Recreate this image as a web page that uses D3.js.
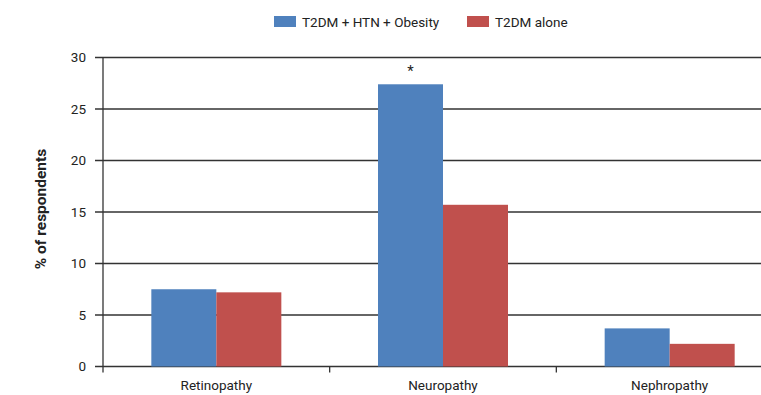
<!DOCTYPE html>
<html><head><meta charset="utf-8">
<script src="https://cdn.jsdelivr.net/npm/d3@7"></script>
<style>
body{margin:0;background:#fff;}
text{font-family:"Liberation Sans Narrow","Arial Narrow","Roboto",sans-serif;fill:#222;}
</style></head>
<body><svg id="c" width="761" height="395"></svg>
<script>
const categories = ["Retinopathy","Neuropathy","Nephropathy"];
const seriesNames = ["T2DM + HTN + Obesity","T2DM alone"];
const comorbid = [7.5, 27.4, 3.7];
const alone = [7.2, 15.7, 2.2];
const yTicks = [0,5,10,15,20,25,30];
const colors = ["#4F81BD","#C0504D"];
const marks = ["", "*", ""];

const svg = d3.select("#c");
const x0 = 103, y0 = 366.5, yTop = 57.5;
const x = d3.scaleBand().domain(categories).range([x0, 783]).padding(0);
const y = d3.scaleLinear().domain([0,30]).range([y0, yTop]);
const barW = 65;
const series = [comorbid, alone];

// gridlines
svg.append("g").selectAll("line").data(yTicks).join("line")
  .attr("x1", 95).attr("x2", 761)
  .attr("y1", d=>y(d)).attr("y2", d=>y(d))
  .attr("stroke","#333").attr("stroke-width",1.3);

// bars
series.forEach((vals, si) => {
  svg.append("g").selectAll("rect").data(categories).join("rect")
    .attr("x", c => x(c) + x.bandwidth()/2 - barW + si*barW)
    .attr("width", barW)
    .attr("y", (c,i) => y(vals[i]))
    .attr("height", (c,i) => y(0) - y(vals[i]))
    .attr("fill", colors[si]);
});

// y axis line
svg.append("line").attr("x1",x0).attr("x2",x0).attr("y1",yTop).attr("y2",y0+6)
  .attr("stroke","#333").attr("stroke-width",1.3);
// x axis ticks at band boundaries
svg.append("g").selectAll("line").data(categories.slice(1)).join("line")
  .attr("x1", c=>x(c)).attr("x2", c=>x(c)).attr("y1", y0).attr("y2", y0+6)
  .attr("stroke","#333").attr("stroke-width",1.3);

// y tick labels
svg.append("g").selectAll("text").data(yTicks).join("text")
  .attr("x", 86).attr("y", d=>y(d)+4.5).attr("text-anchor","end")
  .attr("font-size",13.5).text(d=>d);

// x labels
svg.append("g").selectAll("text").data(categories).join("text")
  .attr("x", c=>x(c)+x.bandwidth()/2).attr("y", 390).attr("text-anchor","middle")
  .attr("font-size",13.5).text(c=>c);

// significance mark
svg.append("g").selectAll("text").data(categories).join("text")
  .attr("x", c=>x(c)+x.bandwidth()/2 - barW/2)
  .attr("y", (c,i)=>y(comorbid[i]) - 8)
  .attr("text-anchor","middle").attr("font-size",15).text((c,i)=>marks[i]);

// y title
svg.append("text").attr("transform","translate(46,209) rotate(-90)")
  .attr("text-anchor","middle").attr("font-size",15.5).attr("font-weight","bold")
  .text("% of respondents");

// legend
const leg = [{x:274, tx:302},{x:467, tx:495}];
seriesNames.forEach((n,i)=>{
  svg.append("rect").attr("x",leg[i].x).attr("y",16).attr("width",22).attr("height",11).attr("fill",colors[i]);
  svg.append("text").attr("x",leg[i].tx).attr("y",26.5).attr("font-size",13.5).text(n);
});
</script></body></html>
